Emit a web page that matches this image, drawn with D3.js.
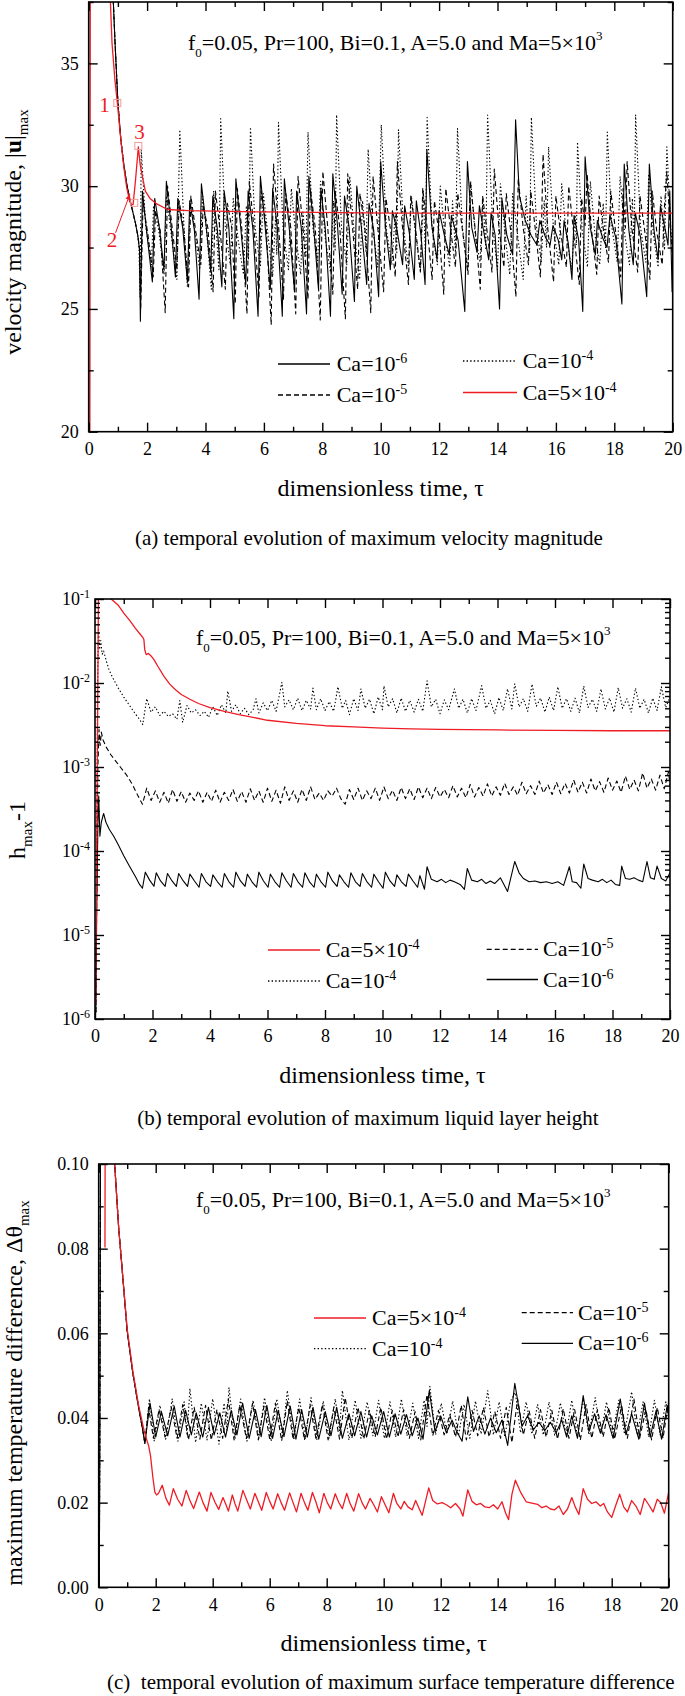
<!DOCTYPE html>
<html><head><meta charset="utf-8">
<script src="https://cdn.jsdelivr.net/npm/d3@7"></script>
<style>body{margin:0;background:#fff}svg{display:block}svg text,svg tspan{font-family:"Liberation Serif","Times New Roman",serif !important}</style>
</head><body><script>
// ---------------- tick values ----------------
const xTicks = [0,2,4,6,8,10,12,14,16,18,20];
const xMinor = [1,3,5,7,9,11,13,15,17,19];
const velTicks = [20,25,30,35];
const velMinor = [22.5,27.5,32.5,37.5];
const hTicks = [1e-6,1e-5,1e-4,1e-3,1e-2,1e-1];
const thTicks = [0,0.02,0.04,0.06,0.08,0.10];
const thMinor = [0.01,0.03,0.05,0.07,0.09];

// ---------------- panel (a): velocity magnitude ----------------
const velRed = [[0.04,20],[0.06,45],[0.7,45],[0.74,37.6],[0.8,35.8],[0.9,34.3],[0.98,33.4],[1.1,31.9],[1.2,30.8],[1.3,29.95],[1.4,29.4],[1.45,29.25],[1.52,29.25],[1.6,30.2],[1.7,31.6],[1.76,30.9],[1.83,30.45],[1.94,29.8],[2.1,29.5],[2.3,29.3],[2.7,29.05],[3.4,29.0],[6,28.95],[10.3,28.9],[20,28.9]];
const velDecay = [[0.84,37.6],[0.9,35.9],[1.0,33.4],[1.1,31.9],[1.2,30.9],[1.3,30.1],[1.4,29.5],[1.5,29.0],[1.6,28.5],[1.68,28.0]];
const velCa6 = velDecay.concat([[1.74,27.4],[1.77,24.5],[1.84,29.8],[1.98,28.2],[2.18,26.1],[2.26,29.5],[2.42,28.3],[2.58,26.6],[2.66,30.2],[2.82,28.4],[2.97,26.3],[3.05,29.5],[3.22,28.3],[3.38,26.1],[3.46,29.4],[3.62,28.2],[3.78,25.4],[3.86,30.1],[4.02,28.4],[4.18,26.5],[4.25,29.6],[4.4,28.3],[4.56,25.9],[4.64,29.8],[4.8,28.3],[4.97,24.6],[5.04,30.3],[5.2,28.4],[5.38,26.0],[5.46,29.8],[5.62,28.3],[5.8,24.7],[5.88,30.4],[6.04,28.4],[6.22,25.8],[6.3,29.9],[6.46,28.3],[6.63,24.7],[6.7,30.3],[6.86,28.4],[7.05,25.7],[7.12,29.8],[7.28,28.3],[7.46,24.8],[7.54,30.4],[7.7,28.4],[7.87,25.8],[7.95,29.9],[8.1,28.3],[8.28,24.7],[8.36,30.5],[8.52,28.4],[8.68,25.6],[8.76,29.6],[8.92,28.3],[9.1,25.3],[9.18,30.0],[9.34,28.3],[9.52,26.0],[9.6,29.3],[9.76,28.2],[9.93,25.5],[10.0,31.0],[10.16,28.4],[10.33,26.6],[10.4,29.0],[10.56,28.2],[10.75,26.8],[10.82,29.2],[10.98,28.1],[11.15,26.2],[11.22,29.4],[11.38,28.0],[11.52,26.0],[11.58,31.5],[11.75,28.4],[11.93,27.0],[12.0,29.0],[12.18,28.0],[12.35,27.2],[12.42,28.8],[12.65,27.8],[12.88,24.9],[12.97,31.0],[13.12,28.3],[13.3,27.3],[13.38,29.2],[13.55,28.0],[13.7,27.0],[13.78,28.9],[13.92,28.0],[14.07,25.0],[14.15,29.5],[14.32,28.0],[14.52,27.2],[14.62,32.7],[14.75,29.6],[14.95,28.6],[15.15,28.0],[15.35,27.6],[15.45,28.6],[15.65,27.9],[15.8,27.6],[15.9,28.4],[16.08,27.8],[16.2,27.0],[16.28,28.6],[16.42,27.7],[16.55,26.2],[16.62,28.8],[16.78,27.8],[16.92,24.9],[17.0,31.2],[17.18,28.3],[17.35,27.2],[17.42,28.6],[17.6,27.9],[17.75,27.5],[17.85,28.8],[18.05,27.9],[18.26,25.2],[18.34,30.9],[18.5,28.2],[18.65,26.8],[18.72,28.9],[18.9,27.9],[19.11,25.5],[19.2,30.9],[19.36,28.2],[19.5,27.0],[19.58,29.2],[19.75,28.2],[19.84,27.6],[19.9,29.8],[19.98,25.7],[20,26.2]]);
const velCa5 = velDecay.concat([[1.74,27.5],[1.78,25.0],[1.86,29.3],[2.02,28.1],[2.21,26.3],[2.29,29.0],[2.45,28.2],[2.62,24.85],[2.7,30.0],[2.86,28.3],[3.02,26.6],[3.1,29.4],[3.26,28.2],[3.42,25.9],[3.5,29.6],[3.66,28.2],[3.84,26.8],[3.92,29.2],[4.08,28.3],[4.26,25.7],[4.34,29.8],[4.5,28.2],[4.68,25.8],[4.75,29.3],[4.9,28.3],[5.02,25.2],[5.09,29.9],[5.24,28.3],[5.42,24.8],[5.5,30.2],[5.66,28.3],[5.83,25.5],[5.91,29.8],[6.08,28.3],[6.25,24.35],[6.33,30.9],[6.5,28.4],[6.67,25.4],[6.75,29.7],[6.92,28.3],[7.09,24.8],[7.17,30.4],[7.34,28.3],[7.51,25.4],[7.59,29.9],[7.76,28.3],[7.93,24.55],[8.02,30.6],[8.18,28.4],[8.36,25.6],[8.44,29.8],[8.6,28.3],[8.79,24.6],[8.87,30.5],[9.03,28.4],[9.21,25.8],[9.29,29.7],[9.46,28.3],[9.66,24.85],[9.74,30.4],[9.9,28.3],[10.1,25.7],[10.18,29.5],[10.34,28.2],[10.5,26.3],[10.57,31.0],[10.74,28.4],[10.95,26.0],[11.03,29.6],[11.2,28.2],[11.36,26.5],[11.44,29.9],[11.6,28.2],[11.76,26.2],[11.84,29.4],[12.0,28.1],[12.16,25.6],[12.23,29.9],[12.4,28.2],[12.56,26.7],[12.64,29.7],[12.8,28.2],[12.99,26.4],[13.07,30.2],[13.24,28.2],[13.41,25.8],[13.49,29.6],[13.65,28.1],[13.81,26.5],[13.89,30.7],[14.05,28.3],[14.22,26.7],[14.3,29.7],[14.46,28.1],[14.63,25.5],[14.71,30.3],[14.88,28.3],[15.06,26.8],[15.14,29.8],[15.3,28.2],[15.47,26.3],[15.56,31.3],[15.72,28.3],[15.92,26.1],[16.0,29.6],[16.16,28.1],[16.36,26.7],[16.44,30.0],[16.6,28.2],[16.8,26.0],[16.88,29.5],[17.0,28.4],[17.07,30.5],[17.22,28.2],[17.4,26.4],[17.48,29.6],[17.64,28.1],[17.8,26.9],[17.88,29.8],[18.05,28.1],[18.22,26.3],[18.3,29.9],[18.38,28.3],[18.44,31.0],[18.6,28.3],[18.8,26.5],[18.88,29.6],[19.05,28.1],[19.22,26.2],[19.3,29.8],[19.46,28.1],[19.64,26.8],[19.72,29.2],[19.8,30.6],[19.92,28.2],[20,27.0]]);
const velCa4 = velDecay.concat([[1.72,27.6],[1.76,25.5],[1.8,31.5],[1.95,28.4],[2.15,26.8],[2.22,29.2],[2.4,28.2],[2.58,26.4],[2.66,29.6],[2.85,27.8],[3.02,26.2],[3.12,32.3],[3.26,28.4],[3.38,25.9],[3.48,29.4],[3.66,28.0],[3.8,26.6],[3.9,29.6],[4.05,28.0],[4.2,25.8],[4.28,29.8],[4.4,27.6],[4.46,26.6],[4.52,32.75],[4.68,28.3],[4.85,26.8],[4.95,29.5],[5.12,27.8],[5.3,26.4],[5.4,29.2],[5.47,27.0],[5.54,32.4],[5.7,28.3],[5.88,26.7],[5.98,29.7],[6.15,27.9],[6.3,26.3],[6.4,28.8],[6.44,27.2],[6.5,32.6],[6.66,28.2],[6.84,26.6],[6.94,29.9],[7.1,27.9],[7.26,26.4],[7.34,29.0],[7.44,27.1],[7.51,32.2],[7.68,28.3],[7.84,26.9],[7.94,30.2],[8.1,27.9],[8.28,26.5],[8.38,29.4],[8.44,27.4],[8.49,32.9],[8.66,28.3],[8.84,26.8],[8.94,30.4],[9.1,28.0],[9.28,26.2],[9.38,29.4],[9.5,27.3],[9.57,31.5],[9.74,28.2],[9.9,26.7],[10.02,32.5],[10.2,28.2],[10.38,26.8],[10.5,28.9],[10.55,27.3],[10.61,32.3],[10.78,28.3],[10.95,26.7],[11.05,29.6],[11.2,28.0],[11.36,26.5],[11.46,29.8],[11.53,27.2],[11.59,32.8],[11.76,28.3],[11.94,26.8],[12.04,30.0],[12.2,28.0],[12.36,26.7],[12.46,29.4],[12.56,27.3],[12.63,32.35],[12.8,28.3],[12.98,26.6],[13.08,30.2],[13.24,28.0],[13.4,26.9],[13.5,29.5],[13.6,27.4],[13.66,32.9],[13.84,28.3],[14.0,26.6],[14.1,30.1],[14.26,28.0],[14.42,26.4],[14.52,29.7],[14.7,27.9],[14.88,26.2],[14.98,29.6],[15.1,27.3],[15.16,32.8],[15.34,28.3],[15.5,26.9],[15.6,29.4],[15.68,27.5],[15.75,31.6],[15.92,28.2],[16.1,26.8],[16.2,30.1],[16.36,28.0],[16.54,26.6],[16.66,28.9],[16.7,27.6],[16.74,31.8],[16.9,28.2],[17.08,26.7],[17.18,30.2],[17.34,28.0],[17.5,26.8],[17.62,29.3],[17.7,27.5],[17.76,32.2],[17.92,28.3],[18.1,26.9],[18.2,30.4],[18.36,28.0],[18.52,26.8],[18.62,29.5],[18.68,27.5],[18.73,32.9],[18.9,28.3],[19.08,26.9],[19.18,30.5],[19.34,28.0],[19.5,26.7],[19.6,29.6],[19.72,27.4],[19.8,31.6],[19.94,28.2],[20,27.4]]);
// annotated points on the red curve (tau, |u|max) and their labels
const markNames = ["1","2","3"];
const markTau = [0.98,1.56,1.70];
const markVel = [33.39,29.32,31.64];
const markLabelTau = [0.54,0.80,1.74];
const markLabelVel = [33.02,27.53,31.94];
const arrowFrom = [0.92,28.1];
const arrowTo = [1.41,29.67];

// ---------------- panel (b): h_max - 1 ----------------
const hRed = [[0.02,1.5e-6],[0.05,3e-5],[0.08,1e-3],[0.12,0.12],[0.5,0.12],[0.56,0.1],[0.8,0.085],[1.0,0.068],[1.2,0.056],[1.4,0.045],[1.6,0.037],[1.66,0.035],[1.7,0.033],[1.73,0.025],[1.78,0.0218],[1.86,0.0225],[1.95,0.021],[2.05,0.019],[2.2,0.0155],[2.4,0.012],[2.6,0.0097],[2.8,0.0083],[3.0,0.0073],[3.3,0.0064],[3.6,0.0057],[4.0,0.0051],[4.5,0.0046],[5.0,0.0042],[5.5,0.0039],[6,0.0036],[7,0.0033],[8,0.0031],[9,0.003],[10,0.0029],[11,0.00285],[12,0.0028],[14,0.00276],[16,0.00273],[18,0.0027],[20,0.0027]];
const hCa4 = [[0.03,1.2e-6],[0.06,1e-4],[0.09,0.01],[0.12,0.045],[0.16,0.025],[0.2,0.032],[0.25,0.022],[0.3,0.024],[0.4,0.018],[0.5,0.014],[0.65,0.011],[0.8,0.0088],[1.0,0.0068],[1.2,0.0054],[1.4,0.0043],[1.55,0.0037],[1.66,0.0032],[1.8,0.0065],[1.95,0.0045],[2.1,0.0052],[2.25,0.0041],[2.4,0.0046],[2.55,0.004],[2.7,0.0043],[2.85,0.0037],[2.95,0.0062],[3.05,0.0034],[3.2,0.0054],[3.35,0.0044],[3.5,0.0048],[3.65,0.0041],[3.8,0.0046],[3.95,0.0039],[4.1,0.0052],[4.25,0.0041],[4.4,0.0055],[4.55,0.0044],[4.62,0.008],[4.75,0.0046],[4.9,0.0055],[5.05,0.0043],[5.2,0.005],[5.35,0.0042],[5.5,0.0048],[5.6,0.0065],[5.7,0.0044],[5.85,0.0058],[6.0,0.0047],[6.15,0.0062],[6.3,0.0046],[6.5,0.0102],[6.6,0.0052],[6.75,0.0063],[6.9,0.0048],[7.05,0.0066],[7.2,0.0047],[7.35,0.0062],[7.5,0.0049],[7.58,0.0087],[7.7,0.0048],[7.85,0.0065],[8.0,0.0047],[8.15,0.006],[8.3,0.0046],[8.45,0.009],[8.6,0.005],[8.72,0.0062],[8.85,0.0042],[9.0,0.0065],[9.15,0.0047],[9.25,0.0085],[9.4,0.005],[9.55,0.0064],[9.7,0.0043],[9.85,0.0068],[10.0,0.0048],[10.05,0.0092],[10.2,0.0052],[10.35,0.0065],[10.5,0.0044],[10.65,0.0066],[10.8,0.0046],[10.95,0.0062],[11.1,0.0045],[11.25,0.0064],[11.4,0.0046],[11.55,0.0106],[11.7,0.0052],[11.85,0.0064],[12.0,0.0043],[12.15,0.0063],[12.3,0.0048],[12.5,0.0085],[12.65,0.005],[12.8,0.0064],[12.95,0.0044],[13.1,0.0065],[13.25,0.0047],[13.45,0.0093],[13.6,0.005],[13.75,0.0062],[13.9,0.0043],[14.05,0.0067],[14.2,0.0047],[14.35,0.0085],[14.5,0.0049],[14.6,0.0098],[14.75,0.0052],[14.9,0.0065],[15.05,0.0046],[15.2,0.0097],[15.35,0.0053],[15.5,0.0066],[15.65,0.0045],[15.8,0.0068],[15.95,0.0047],[16.1,0.009],[16.25,0.005],[16.4,0.0065],[16.55,0.0046],[16.7,0.0066],[16.85,0.0044],[17.0,0.0092],[17.15,0.0051],[17.3,0.0064],[17.45,0.0046],[17.6,0.0085],[17.75,0.0049],[17.9,0.0066],[18.05,0.0045],[18.2,0.0088],[18.35,0.005],[18.5,0.0065],[18.65,0.0045],[18.8,0.0087],[18.95,0.005],[19.1,0.0064],[19.25,0.0044],[19.4,0.0066],[19.55,0.0047],[19.7,0.009],[19.85,0.0051],[20,0.0068]];
const hCa5 = [[0.03,1.2e-6],[0.06,3e-5],[0.1,0.001],[0.14,0.0028],[0.18,0.0018],[0.22,0.0026],[0.28,0.0021],[0.4,0.0017],[0.55,0.0014],[0.7,0.0012],[0.9,0.00098],[1.1,0.0008],[1.3,0.00062],[1.5,0.00045],[1.65,0.00036],[1.8,0.00056],[1.95,0.0004],[2.1,0.00052],[2.25,0.00038],[2.4,0.0005],[2.55,0.00037],[2.7,0.00054],[2.85,0.00039],[3.0,0.00051],[3.15,0.00038],[3.3,0.00049],[3.45,0.0004],[3.6,0.00052],[3.75,0.00038],[3.9,0.0005],[4.05,0.00039],[4.2,0.00053],[4.35,0.00038],[4.5,0.0005],[4.65,0.0004],[4.8,0.00054],[4.95,0.00039],[5.1,0.00051],[5.25,0.00038],[5.4,0.00055],[5.55,0.0004],[5.7,0.00052],[5.85,0.00038],[6.0,0.00056],[6.15,0.00039],[6.3,0.00053],[6.45,0.00037],[6.6,0.00058],[6.75,0.0004],[6.9,0.00052],[7.05,0.00038],[7.2,0.00054],[7.35,0.0004],[7.5,0.00058],[7.65,0.00041],[7.8,0.00049],[7.95,0.0004],[8.1,0.00052],[8.25,0.00045],[8.4,0.00056],[8.55,0.00042],[8.7,0.00036],[8.85,0.00054],[9.0,0.00041],[9.15,0.00056],[9.3,0.0004],[9.45,0.00052],[9.6,0.00042],[9.75,0.00056],[9.9,0.0004],[10.05,0.00058],[10.2,0.00042],[10.35,0.00053],[10.5,0.0004],[10.65,0.00057],[10.8,0.00042],[10.95,0.00055],[11.1,0.00041],[11.25,0.00058],[11.4,0.00043],[11.55,0.00056],[11.7,0.00042],[11.85,0.00057],[12.0,0.00044],[12.15,0.00054],[12.3,0.00043],[12.45,0.0006],[12.6,0.00044],[12.75,0.00056],[12.9,0.00043],[13.05,0.00062],[13.2,0.00044],[13.35,0.00057],[13.5,0.00045],[13.65,0.00063],[13.8,0.00045],[13.95,0.00058],[14.1,0.00046],[14.25,0.00064],[14.4,0.00047],[14.55,0.00058],[14.7,0.00046],[14.85,0.00066],[15.0,0.00048],[15.15,0.0006],[15.3,0.00047],[15.45,0.00068],[15.6,0.00049],[15.75,0.00062],[15.9,0.00047],[16.05,0.00066],[16.2,0.00048],[16.35,0.00064],[16.5,0.00049],[16.65,0.0007],[16.8,0.0005],[16.95,0.00066],[17.1,0.00049],[17.25,0.00072],[17.4,0.00052],[17.55,0.00067],[17.7,0.0005],[17.85,0.00074],[18.0,0.00053],[18.15,0.00068],[18.3,0.0005],[18.45,0.00078],[18.6,0.00054],[18.75,0.0007],[18.9,0.00052],[19.05,0.00085],[19.2,0.00056],[19.35,0.00072],[19.5,0.00053],[19.65,0.0008],[19.8,0.00055],[19.95,0.00088],[20,0.0006]];
const hCa6 = [[0.03,1.2e-6],[0.06,2e-5],[0.1,0.0002],[0.13,0.00045],[0.17,0.00015],[0.22,0.00022],[0.3,0.00028],[0.38,0.00022],[0.5,0.00018],[0.65,0.00015],[0.8,0.00012],[1.0,8.8e-5],[1.2,6.6e-5],[1.4,5e-5],[1.55,4e-5],[1.65,3.6e-5],[1.75,5.6e-5],[1.9,4.5e-5],[2.05,3.8e-5],[2.13,5.5e-5],[2.28,4.4e-5],[2.44,3.8e-5],[2.52,5.4e-5],[2.68,4.4e-5],[2.83,3.8e-5],[2.91,5.4e-5],[3.07,4.4e-5],[3.22,3.8e-5],[3.3,5.3e-5],[3.46,4.4e-5],[3.62,3.7e-5],[3.7,5.4e-5],[3.86,4.3e-5],[4.02,3.8e-5],[4.1,5.2e-5],[4.26,4.3e-5],[4.42,3.7e-5],[4.5,5.4e-5],[4.66,4.3e-5],[4.82,3.7e-5],[4.9,5.6e-5],[5.06,4.4e-5],[5.22,3.8e-5],[5.3,5.3e-5],[5.46,4.3e-5],[5.62,3.7e-5],[5.7,5.6e-5],[5.86,4.4e-5],[6.02,3.7e-5],[6.1,5.3e-5],[6.26,4.3e-5],[6.42,3.7e-5],[6.5,5.5e-5],[6.66,4.4e-5],[6.82,3.7e-5],[6.9,5.4e-5],[7.06,4.3e-5],[7.22,3.7e-5],[7.3,5.5e-5],[7.46,4.3e-5],[7.62,3.7e-5],[7.7,5.3e-5],[7.86,4.3e-5],[8.02,3.7e-5],[8.1,5.6e-5],[8.26,4.4e-5],[8.42,3.8e-5],[8.5,5.2e-5],[8.66,4.3e-5],[8.82,3.7e-5],[8.9,5.5e-5],[9.06,4.3e-5],[9.22,3.8e-5],[9.3,5.4e-5],[9.46,4.3e-5],[9.62,3.7e-5],[9.7,5.3e-5],[9.86,4.3e-5],[10.02,3.6e-5],[10.1,5.6e-5],[10.26,4.4e-5],[10.42,3.8e-5],[10.5,5.2e-5],[10.66,4.3e-5],[10.82,3.8e-5],[10.9,5.3e-5],[11.06,4.4e-5],[11.22,3.7e-5],[11.3,5.1e-5],[11.46,3.5e-5],[11.55,6.5e-5],[11.7,4.6e-5],[11.9,4.3e-5],[12.05,4.6e-5],[12.2,4.2e-5],[12.35,4.5e-5],[12.5,4.3e-5],[12.7,4e-5],[12.85,3.5e-5],[12.95,6.2e-5],[13.1,4.5e-5],[13.3,4.3e-5],[13.45,4.6e-5],[13.6,4.1e-5],[13.75,4.4e-5],[13.9,4.1e-5],[14.1,4.8e-5],[14.35,3.3e-5],[14.6,7.5e-5],[14.75,5.5e-5],[14.9,4.7e-5],[15.1,4.3e-5],[15.3,4.4e-5],[15.5,4.2e-5],[15.7,4.3e-5],[15.9,4.1e-5],[16.1,4.3e-5],[16.3,3.9e-5],[16.5,6.5e-5],[16.6,4.3e-5],[16.75,4.2e-5],[16.9,3.6e-5],[17.0,7e-5],[17.15,4.7e-5],[17.3,4.5e-5],[17.5,4.3e-5],[17.65,4.6e-5],[17.8,4.2e-5],[17.95,4.5e-5],[18.1,4e-5],[18.25,3.9e-5],[18.32,6.6e-5],[18.45,4.7e-5],[18.6,4.6e-5],[18.75,4.8e-5],[18.9,4.5e-5],[19.05,4.3e-5],[19.2,7.5e-5],[19.32,4.8e-5],[19.45,4.6e-5],[19.55,6.6e-5],[19.7,4.7e-5],[19.85,4.4e-5],[20,5.5e-5]];

// ---------------- panel (c): max temperature difference ----------------
const thRed = [[0.22,0.0803],[0.23,0.12],[0.5,0.12],[0.56,0.1],[0.7,0.085],[0.8,0.077],[1.0,0.061],[1.2,0.051],[1.4,0.043],[1.6,0.0368],[1.7,0.0345],[1.75,0.0335],[1.82,0.031],[1.9,0.026],[1.97,0.0225],[2.03,0.0218],[2.1,0.0222],[2.23,0.0241],[2.36,0.021],[2.48,0.0194],[2.62,0.0233],[2.77,0.0208],[2.92,0.0192],[3.07,0.0229],[3.2,0.0205],[3.33,0.0186],[3.53,0.0225],[3.66,0.02],[3.8,0.018],[3.94,0.0224],[4.08,0.0201],[4.21,0.0184],[4.36,0.0212],[4.46,0.0196],[4.55,0.018],[4.69,0.0218],[4.78,0.0198],[4.88,0.018],[5.06,0.0229],[5.2,0.0205],[5.32,0.0185],[5.48,0.0222],[5.6,0.0202],[5.72,0.0182],[5.88,0.0224],[6.0,0.0203],[6.12,0.0185],[6.28,0.0221],[6.4,0.02],[6.52,0.0182],[6.7,0.0223],[6.82,0.02],[6.94,0.0178],[7.1,0.0222],[7.22,0.02],[7.34,0.0182],[7.5,0.0224],[7.62,0.0202],[7.74,0.0176],[7.9,0.0222],[8.02,0.02],[8.14,0.0185],[8.3,0.0221],[8.42,0.0201],[8.55,0.0186],[8.7,0.0222],[8.82,0.0198],[8.95,0.018],[9.12,0.0221],[9.24,0.02],[9.36,0.0185],[9.52,0.021],[9.65,0.0195],[9.78,0.0178],[9.92,0.0214],[10.05,0.0195],[10.18,0.0176],[10.34,0.0222],[10.46,0.0198],[10.6,0.0185],[10.72,0.0203],[10.85,0.019],[11.0,0.0183],[11.12,0.0205],[11.25,0.0185],[11.35,0.017],[11.58,0.0235],[11.72,0.0205],[11.88,0.0197],[12.05,0.02],[12.2,0.0195],[12.35,0.0188],[12.52,0.0198],[12.68,0.0185],[12.78,0.0168],[12.95,0.023],[13.1,0.0203],[13.25,0.0195],[13.4,0.0198],[13.55,0.019],[13.7,0.0188],[13.85,0.0195],[14.0,0.0185],[14.15,0.0202],[14.28,0.0175],[14.38,0.016],[14.5,0.022],[14.62,0.0253],[14.8,0.0225],[15.0,0.0202],[15.2,0.0199],[15.4,0.0196],[15.55,0.0188],[15.7,0.0192],[15.85,0.0185],[16.0,0.0183],[16.15,0.0192],[16.3,0.0172],[16.45,0.0185],[16.6,0.0212],[16.72,0.019],[16.85,0.0172],[17.0,0.0233],[17.15,0.0208],[17.3,0.0198],[17.45,0.0202],[17.6,0.0192],[17.72,0.0198],[17.85,0.0178],[18.0,0.0165],[18.15,0.0195],[18.28,0.022],[18.42,0.019],[18.55,0.0178],[18.7,0.0205],[18.85,0.0192],[19.0,0.0172],[19.15,0.021],[19.3,0.0195],[19.45,0.0178],[19.6,0.0208],[19.72,0.02],[19.85,0.0175],[20,0.0225]];
const thDecay = [[0.02,0.0],[0.04,0.035],[0.07,0.12],[0.5,0.12],[0.56,0.1],[0.7,0.085],[0.8,0.077],[1.0,0.0605],[1.2,0.0505],[1.4,0.0425],[1.55,0.037],[1.62,0.034]];
const thCa6 = thDecay.concat([[1.8,0.0435],[2.0,0.0355],[2.2,0.0415],[2.42,0.0358],[2.65,0.0428],[2.85,0.0355],[3.05,0.0418],[3.25,0.036],[3.42,0.0412],[3.65,0.0355],[3.85,0.0425],[4.05,0.036],[4.25,0.0412],[4.45,0.0355],[4.65,0.0418],[4.85,0.036],[5.05,0.0435],[5.28,0.0352],[5.5,0.042],[5.7,0.0356],[5.9,0.043],[6.1,0.0352],[6.3,0.0418],[6.5,0.0356],[6.72,0.0428],[6.92,0.035],[7.12,0.042],[7.32,0.0355],[7.52,0.0425],[7.72,0.035],[7.95,0.0415],[8.15,0.0358],[8.35,0.0425],[8.55,0.0352],[8.78,0.041],[8.98,0.0358],[9.2,0.0415],[9.4,0.0355],[9.58,0.0405],[9.78,0.036],[10.0,0.0415],[10.2,0.0355],[10.4,0.041],[10.6,0.0362],[10.8,0.0408],[11.0,0.0358],[11.2,0.04],[11.38,0.035],[11.6,0.0465],[11.8,0.0368],[12.0,0.0405],[12.2,0.0365],[12.4,0.0395],[12.55,0.037],[12.75,0.0345],[12.95,0.045],[13.15,0.0368],[13.35,0.0405],[13.55,0.0362],[13.75,0.04],[13.95,0.0365],[14.15,0.0395],[14.35,0.0335],[14.6,0.0482],[14.85,0.038],[15.05,0.0405],[15.25,0.0372],[15.45,0.039],[15.65,0.037],[15.85,0.039],[16.05,0.0365],[16.25,0.0395],[16.42,0.0355],[16.6,0.0405],[16.8,0.0352],[17.0,0.0453],[17.2,0.0368],[17.4,0.041],[17.6,0.0365],[17.8,0.0408],[18.05,0.0352],[18.3,0.0445],[18.5,0.036],[18.7,0.041],[18.95,0.035],[19.15,0.0435],[19.35,0.0355],[19.55,0.0415],[19.75,0.035],[19.95,0.043],[20,0.04]]);
const thCa5 = thDecay.concat([[1.75,0.0425],[1.92,0.0352],[2.12,0.042],[2.33,0.0355],[2.55,0.0425],[2.75,0.0352],[2.95,0.0432],[3.15,0.0348],[3.35,0.0425],[3.55,0.035],[3.75,0.043],[3.95,0.0348],[4.15,0.042],[4.35,0.0352],[4.55,0.0445],[4.75,0.0348],[4.95,0.043],[5.18,0.0352],[5.4,0.0435],[5.6,0.0348],[5.8,0.0428],[6.0,0.035],[6.2,0.0435],[6.42,0.0346],[6.62,0.044],[6.82,0.035],[7.02,0.0425],[7.22,0.0348],[7.42,0.043],[7.62,0.0352],[7.85,0.0432],[8.05,0.0348],[8.25,0.0425],[8.45,0.035],[8.65,0.0448],[8.88,0.0352],[9.1,0.0425],[9.3,0.035],[9.5,0.0418],[9.7,0.0355],[9.9,0.0425],[10.1,0.035],[10.3,0.0418],[10.5,0.0355],[10.7,0.042],[10.9,0.0352],[11.1,0.0415],[11.3,0.0348],[11.52,0.0455],[11.72,0.0358],[11.92,0.0418],[12.12,0.036],[12.32,0.0408],[12.52,0.0355],[12.72,0.043],[12.9,0.0348],[13.1,0.0418],[13.3,0.0358],[13.5,0.0425],[13.7,0.0355],[13.9,0.0415],[14.1,0.0352],[14.3,0.0425],[14.5,0.0342],[14.7,0.0445],[14.9,0.036],[15.1,0.0418],[15.3,0.0352],[15.5,0.042],[15.7,0.0355],[15.9,0.0418],[16.1,0.035],[16.3,0.0422],[16.5,0.0352],[16.7,0.042],[16.9,0.0348],[17.1,0.0432],[17.3,0.0352],[17.5,0.042],[17.7,0.0355],[17.9,0.0425],[18.1,0.035],[18.35,0.0428],[18.55,0.0352],[18.78,0.0445],[18.98,0.0352],[19.2,0.042],[19.4,0.0348],[19.6,0.0425],[19.8,0.0352],[20,0.044]]);
const thCa4 = thDecay.concat([[1.78,0.0445],[1.95,0.0345],[2.15,0.043],[2.35,0.035],[2.58,0.0445],[2.78,0.0345],[3.0,0.0438],[3.1,0.036],[3.2,0.047],[3.4,0.0342],[3.6,0.0435],[3.8,0.0348],[4.0,0.0445],[4.22,0.0338],[4.4,0.0435],[4.5,0.037],[4.57,0.0472],[4.78,0.035],[4.98,0.0445],[5.2,0.0345],[5.42,0.0442],[5.62,0.0352],[5.82,0.0448],[6.05,0.0345],[6.25,0.0445],[6.45,0.0358],[6.62,0.0465],[6.85,0.0348],[7.05,0.0445],[7.25,0.035],[7.45,0.0448],[7.65,0.0348],[7.88,0.044],[8.08,0.0352],[8.3,0.0445],[8.45,0.037],[8.55,0.0465],[8.78,0.0348],[9.0,0.0442],[9.2,0.0352],[9.42,0.0438],[9.62,0.0358],[9.82,0.0442],[10.02,0.0352],[10.22,0.0438],[10.42,0.0355],[10.62,0.0445],[10.82,0.0358],[11.02,0.0435],[11.22,0.0352],[11.42,0.0442],[11.52,0.038],[11.62,0.0475],[11.82,0.036],[12.02,0.0435],[12.22,0.0362],[12.42,0.044],[12.62,0.0358],[12.82,0.0432],[13.02,0.0352],[13.22,0.044],[13.42,0.0362],[13.65,0.0465],[13.85,0.036],[14.05,0.0438],[14.25,0.0355],[14.45,0.044],[14.62,0.046],[14.8,0.0365],[15.0,0.0438],[15.2,0.0362],[15.4,0.0432],[15.6,0.036],[15.8,0.0438],[16.0,0.0358],[16.2,0.0436],[16.4,0.036],[16.6,0.0442],[16.8,0.0355],[17.0,0.0445],[17.2,0.036],[17.42,0.0448],[17.62,0.0362],[17.82,0.0438],[18.02,0.0358],[18.25,0.0442],[18.45,0.0362],[18.7,0.0462],[18.9,0.036],[19.1,0.0438],[19.3,0.0355],[19.5,0.0442],[19.7,0.036],[19.9,0.0438],[20,0.0395]]);

// ---------------- drawing ----------------
const FONT = "Liberation Serif, Times New Roman, serif";
const RED = "#ee1c25";
const STY = {
  red:    {color:RED, width:1.3, dash:null},
  solid:  {color:"#000", width:1.1, dash:null},
  dashed: {color:"#000", width:1.1, dash:"5,3"},
  dotted: {color:"#000", width:1.1, dash:"1.4,2.2"}
};
const svg = d3.select("body").append("svg").attr("width",685).attr("height",1696)
  .attr("font-family",FONT).style("background","#fff");

function rich(sel, segs){ // segs: [text, shift(px, +down), size, weight]
  let off = 0;
  segs.forEach(([t,sh,sz,wt])=>{
    const ts = sel.append("tspan").text(t).attr("dy", sh-off).attr("font-size", sz);
    if (wt) ts.attr("font-weight", wt);
    off = sh;
  });
}
const caLabel = (pre, exp) => [[pre,0,22],[exp,-8,14]];
const infoSegs = [["f",0,22],["0",7,13],["=0.05, Pr=100, Bi=0.1, A=5.0 and Ma=5×10",0,22],["3",-10,13]];

function drawPanel(p){
  const x = d3.scaleLinear().domain([0,20]).range([p.x0,p.x1]);
  const y = (p.log ? d3.scaleLog() : d3.scaleLinear()).domain(p.yDomain).range([p.y1,p.y0]);
  const cid = "clip"+p.key;
  svg.append("clipPath").attr("id",cid).append("rect")
    .attr("x",p.x0).attr("y",p.y0).attr("width",p.x1-p.x0).attr("height",p.y1-p.y0);
  const gl = svg.append("g").attr("clip-path",`url(#${cid})`);
  const line = d3.line().x(d=>x(d[0])).y(d=>y(d[1]));
  p.series.forEach(s=>{
    const st = STY[s.style];
    gl.append("path").attr("d",line(s.data)).attr("fill","none")
      .attr("stroke",st.color).attr("stroke-width",st.width)
      .attr("stroke-dasharray",st.dash).attr("stroke-linejoin","round");
  });
  if (p.extra) p.extra(gl, x, y);

  const styleAxis = g => { g.select(".domain").remove(); g.selectAll(".tick line").attr("stroke","#000").attr("stroke-width",1.4);
    g.attr("font-family",FONT).attr("font-size",18); g.selectAll(".tick text").attr("fill","#000"); };
  const add = (gen, tx, ty) => svg.append("g").attr("transform",`translate(${tx},${ty})`).call(gen).call(styleAxis);
  add(d3.axisBottom(x).tickValues(xTicks).tickSize(-9).tickSizeOuter(0).tickPadding(10.7).tickFormat(d=>d), 0, p.y1);
  add(d3.axisBottom(x).tickValues(xMinor).tickSize(-5).tickSizeOuter(0).tickFormat(""), 0, p.y1);
  add(d3.axisTop(x).tickValues(xTicks).tickSize(-9).tickSizeOuter(0).tickFormat(""), 0, p.y0);
  add(d3.axisTop(x).tickValues(xMinor).tickSize(-5).tickSizeOuter(0).tickFormat(""), 0, p.y0);
  const yl = add(d3.axisLeft(y).tickValues(p.yTicks).tickSize(-9).tickSizeOuter(0).tickPadding(p.yPad).tickFormat(p.yFmt || (()=>"")), p.x0, 0);
  add(d3.axisLeft(y).tickValues(p.yMinor).tickSize(-5).tickSizeOuter(0).tickFormat(""), p.x0, 0);
  add(d3.axisRight(y).tickValues(p.yTicks).tickSize(-9).tickSizeOuter(0).tickFormat(""), p.x1, 0);
  add(d3.axisRight(y).tickValues(p.yMinor).tickSize(-5).tickSizeOuter(0).tickFormat(""), p.x1, 0);
  if (p.log) {
    yl.selectAll(".tick text").each(function(d){
      const e = Math.round(Math.log10(d));
      const t = d3.select(this).text(null);
      t.append("tspan").text("10");
      t.append("tspan").text(String(e)).attr("dy",-7).attr("font-size",12);
    });
  }
  svg.append("rect").attr("x",p.x0).attr("y",p.y0).attr("width",p.x1-p.x0).attr("height",p.y1-p.y0)
    .attr("fill","none").attr("stroke","#000").attr("stroke-width",1.6);

  rich(svg.append("text").attr("x",p.info[0]).attr("y",p.info[1]).attr("fill","#000"), infoSegs);
  p.legend.forEach(L=>{
    const st = STY[L.style];
    svg.append("line").attr("x1",L.lx[0]).attr("x2",L.lx[1]).attr("y1",L.y).attr("y2",L.y)
      .attr("stroke",st.color).attr("stroke-width",st.width+0.2).attr("stroke-dasharray",st.dash);
    rich(svg.append("text").attr("x",L.tx).attr("y",L.y+7).attr("fill","#000"), caLabel(L.pre, L.exp));
  });
  svg.append("text").attr("x",(p.x0+p.x1)/2).attr("y",p.y1+64).attr("text-anchor","middle")
    .attr("font-size",24).attr("fill","#000").text("dimensionless time, τ");
  const yt = svg.append("text").attr("transform",`translate(${p.ytitle[0]},${p.ytitle[1]}) rotate(-90)`)
    .attr("text-anchor","middle").attr("fill","#000");
  rich(yt, p.ytitleSegs);
  svg.append("text").attr("x",p.caption[0]).attr("y",p.caption[1]).attr("font-size",21)
    .attr("fill","#000").style("white-space","pre").text(p.caption[2]);
}

const logMinor = [];
hTicks.slice(0,-1).forEach(b=>{ for (let k=2;k<=9;k++) logMinor.push(b*k); });

drawPanel({key:"a", x0:88.7, x1:672.7, y0:2, y1:431.7, yDomain:[20,37.5], yTicks:velTicks, yMinor:velMinor, yPad:10, yFmt:d=>d,
  series:[{data:velCa5,style:"dashed"},{data:velCa4,style:"dotted"},{data:velCa6,style:"solid"},{data:velRed,style:"red"}],
  info:[188,49.5],
  legend:[{style:"solid",lx:[278,330],tx:336.7,y:364,pre:"Ca=10",exp:"-6"},
          {style:"dashed",lx:[278,330],tx:336.7,y:395,pre:"Ca=10",exp:"-5"},
          {style:"dotted",lx:[463,517],tx:522.7,y:361,pre:"Ca=10",exp:"-4"},
          {style:"red",lx:[463,517],tx:522.7,y:392.5,pre:"Ca=5×10",exp:"-4"}],
  ytitle:[21,232], ytitleSegs:[["velocity magnitude, |",0,24],["u",0,24,"bold"],["|",0,24],["max",7,15]],
  caption:[135,544.5,"(a) temporal evolution of maximum velocity magnitude"],
  extra:(g,x,y)=>{
    markTau.forEach((t,i)=>{
      svg.append("rect").attr("x",x(t)-3.5).attr("y",y(markVel[i])-3.5).attr("width",7).attr("height",7)
        .attr("fill","none").attr("stroke","#f19a9a").attr("stroke-width",1);
      svg.append("text").attr("x",x(markLabelTau[i])).attr("y",y(markLabelVel[i])).attr("text-anchor","middle")
        .attr("font-size",21).attr("fill",RED).text(markNames[i]);
    });
    const x1=x(arrowFrom[0]), y1=y(arrowFrom[1]), x2=x(arrowTo[0]), y2=y(arrowTo[1]);
    svg.append("line").attr("x1",x1).attr("y1",y1).attr("x2",x2).attr("y2",y2).attr("stroke",RED).attr("stroke-width",1);
    const ang = Math.atan2(y2-y1,x2-x1), L=6, w=0.45;
    svg.append("path").attr("fill",RED)
      .attr("d",`M${x2},${y2}L${x2-L*Math.cos(ang-w)},${y2-L*Math.sin(ang-w)}L${x2-L*Math.cos(ang+w)},${y2-L*Math.sin(ang+w)}Z`);
  }
});

drawPanel({key:"b", x0:95, x1:670, y0:599, y1:1019, log:true, yDomain:[1e-6,1e-1], yTicks:hTicks, yMinor:logMinor, yPad:5, yFmt:d=>d,
  series:[{data:hCa4,style:"dotted"},{data:hCa5,style:"dashed"},{data:hCa6,style:"solid"},{data:hRed,style:"red"}],
  info:[196,645],
  legend:[{style:"red",lx:[268,320],tx:325.7,y:950,pre:"Ca=5×10",exp:"-4"},
          {style:"dotted",lx:[268,320],tx:325.7,y:981,pre:"Ca=10",exp:"-4"},
          {style:"dashed",lx:[486.7,538],tx:543,y:949.3,pre:"Ca=10",exp:"-5"},
          {style:"solid",lx:[486.7,538],tx:543,y:979.5,pre:"Ca=10",exp:"-6"}],
  ytitle:[25,830], ytitleSegs:[["h",0,24],["max",7,15],["-1",0,24]],
  caption:[137.3,1124.5,"(b) temporal evolution of maximum liquid layer height"]
});

drawPanel({key:"c", x0:98.7, x1:668.7, y0:1164, y1:1587.3, yDomain:[0,0.1], yTicks:thTicks, yMinor:thMinor, yPad:10, yFmt:d3.format(".2f"),
  series:[{data:thCa4,style:"dotted"},{data:thCa5,style:"dashed"},{data:thCa6,style:"solid"},{data:thRed,style:"red"}],
  info:[196,1207],
  legend:[{style:"red",lx:[314,366],tx:372,y:1318,pre:"Ca=5×10",exp:"-4"},
          {style:"dotted",lx:[314,366],tx:372,y:1348.7,pre:"Ca=10",exp:"-4"},
          {style:"dashed",lx:[521.7,573],tx:578,y:1312.6,pre:"Ca=10",exp:"-5"},
          {style:"solid",lx:[521.7,573],tx:578,y:1343.3,pre:"Ca=10",exp:"-6"}],
  ytitle:[22,1393], ytitleSegs:[["maximum temperature difference, Δθ",0,24],["max",7,15]],
  caption:[107,1689,"(c)  temporal evolution of maximum surface temperature difference"]
});
</script></body></html>
